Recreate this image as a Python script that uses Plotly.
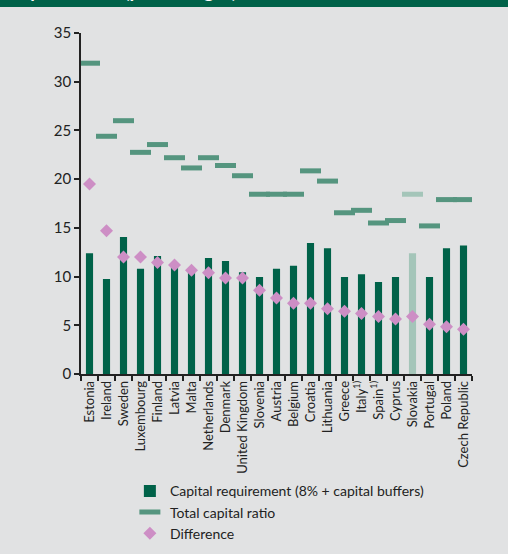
import plotly.graph_objects as go

countries = ['Estonia', 'Ireland', 'Sweden', 'Luxembourg', 'Finland', 'Latvia', 'Malta',
             'Netherlands', 'Denmark', 'United Kingdom', 'Slovenia', 'Austria', 'Belgium',
             'Croatia', 'Lithuania', 'Greece', 'Italy<sup>1)</sup>', 'Spain<sup>1)</sup>',
             'Cyprus', 'Slovakia', 'Portugal', 'Poland', 'Czech Republic']

capital_req = [12.4, 9.75, 14.05, 10.8, 12.1, 11.2, 10.7, 11.9, 11.6, 10.45, 9.95, 10.8,
               11.1, 13.45, 12.9, 9.95, 10.25, 9.45, 9.95, 12.4, 9.95, 12.9, 13.2]
total_ratio = [31.9, 24.4, 26.0, 22.75, 23.55, 22.2, 21.15, 22.2, 21.4, 20.35, 18.45, 18.45,
               18.45, 20.85, 19.8, 16.55, 16.8, 15.5, 15.75, 18.45, 15.2, 17.9, 17.9]
difference = [19.5, 14.7, 12.0, 12.0, 11.45, 11.2, 10.65, 10.4, 9.85, 9.85, 8.6, 7.8,
              7.25, 7.25, 6.7, 6.45, 6.2, 5.9, 5.65, 5.9, 5.1, 4.85, 4.6]
highlight = 'Slovakia'

dark = '#006249'
mid = '#55957f'
light = '#a4c5b9'
pink = '#cd8ec5'
bg = '#e1e2e3'
font = 'Lato'

bar_colors = [light if c == highlight else dark for c in countries]
dash_colors = [light if c == highlight else mid for c in countries]

fig = go.Figure()

fig.add_trace(go.Bar(
    x=countries, y=capital_req,
    name='Capital requirement (8% + capital buffers)',
    marker_color=bar_colors,
    marker_line_width=0,
    width=0.42,
))

fig.add_trace(go.Scatter(
    x=countries, y=total_ratio,
    name='Total capital ratio',
    mode='markers',
    marker=dict(symbol='line-ew', size=15, line=dict(color=dash_colors, width=5)),
))

fig.add_trace(go.Scatter(
    x=countries, y=difference,
    name='Difference',
    mode='markers',
    marker=dict(symbol='diamond', size=10, color=pink),
))

# header band, mostly cut off at the top of the page
fig.add_shape(type='rect', xref='paper', yref='paper',
              x0=-0.3, x1=1.2, y0=1 + 26 / 341, y1=1.3,
              fillcolor=dark, line_width=0, layer='below')
fig.add_annotation(text='<b>Capital ratios (percentages)</b>', xref='paper', yref='paper',
                   x=-75 / 391, y=1 + 29.5 / 341, xanchor='left', yanchor='bottom',
                   showarrow=False, font=dict(family=font, size=19, color='white'))

fig.update_layout(
    width=508, height=554,
    margin=dict(l=81, r=36, t=33, b=180, autoexpand=False),
    paper_bgcolor=bg, plot_bgcolor=bg,
    font=dict(family=font, color='#222222'),
    showlegend=True,
    legend=dict(
        x=0.125, y=-0.297, xanchor='left', yanchor='top',
        bgcolor='rgba(0,0,0,0)', font=dict(size=14, color='#222222'),
        tracegroupgap=0,
    ),
    bargap=0.5,
)

fig.update_xaxes(
    type='category', range=[-0.5, 22.5],
    showline=True, linecolor='#222222', linewidth=1.5,
    ticks='outside', tickson='boundaries', ticklen=5, tickcolor='#222222', tickwidth=1.5,
    tickangle=-90, tickfont=dict(size=13),
    showgrid=False,
)
fig.update_yaxes(
    range=[0, 35], tickvals=[0, 5, 10, 15, 20, 25, 30, 35],
    showline=True, linecolor='#222222', linewidth=1.5,
    ticks='outside', ticklen=5, tickcolor='#222222', tickwidth=1.5,
    tickfont=dict(size=15),
    showgrid=False, zeroline=False,
)

fig.write_html('out.html', config={'displayModeBar': False},
               post_script="document.body.style.margin='0px';")
